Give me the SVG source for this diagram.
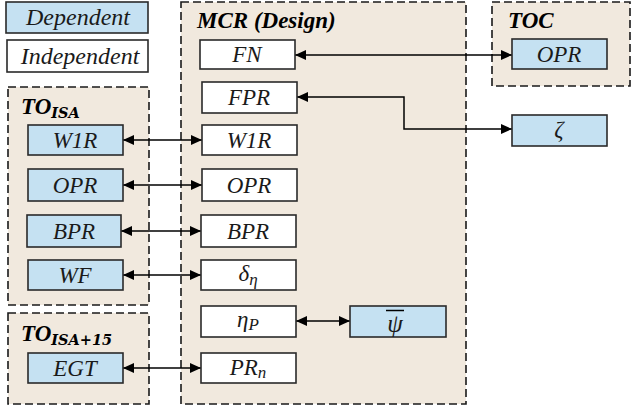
<svg xmlns="http://www.w3.org/2000/svg" width="633" height="408" viewBox="0 0 633 408">
  <defs>
    <marker id="arr" viewBox="0 0 10 10" refX="10" refY="5" markerWidth="11" markerHeight="11" markerUnits="userSpaceOnUse" orient="auto-start-reverse">
      <path d="M0,0.5 L10,5 L0,9.5 Z" fill="#000"/>
    </marker>
  </defs>
  <style>
    .grp { fill: #f1e9de; stroke: #1a1a1a; stroke-width: 1.6; stroke-dasharray: 8 4; }
    .dep { fill: #c5e1f2; stroke: #2a2a2a; stroke-width: 1.6; }
    .ind { fill: #ffffff; stroke: #2a2a2a; stroke-width: 1.6; }
    .t { font-family: "Liberation Serif", "Times New Roman", serif; font-style: italic; font-size: 23px; fill: #1a1a1a; text-anchor: middle; }
    .lg { font-size: 24px; }
    .big { font-size: 25px; }
    .h { font-family: "Liberation Serif", "Times New Roman", serif; font-style: italic; font-weight: bold; font-size: 23px; fill: #000; }
    .hs { font-family: "DejaVu Serif", serif; font-style: italic; font-weight: bold; font-size: 14.5px; fill: #000; }
    .sub { font-size: 17px; }
    .conn { fill: none; stroke: #000; stroke-width: 1.5; marker-start: url(#arr); marker-end: url(#arr); }
  </style>

  <!-- legend -->
  <g id="legend-dependent">
    <rect class="dep" x="6" y="2" width="142" height="31"/>
    <text class="t lg" x="78" y="25">Dependent</text>
  </g>
  <g id="legend-independent">
    <rect class="ind" x="7" y="40" width="141" height="32"/>
    <text class="t lg" x="80" y="64">Independent</text>
  </g>

  <!-- containers -->
  <g id="to-isa">
    <rect class="grp" x="8" y="87" width="141" height="218"/>
    <text class="h" x="21" y="114">TO<tspan class="hs" dy="4">ISA</tspan></text>
  </g>
  <g id="to-isa15">
    <rect class="grp" x="8" y="313" width="141" height="91"/>
    <text class="h" x="21" y="341">TO<tspan class="hs" dy="4">ISA+15</tspan></text>
  </g>
  <g id="mcr">
    <rect class="grp" x="181" y="2" width="285" height="402"/>
    <text class="h" x="197" y="28">MCR (Design)</text>
  </g>
  <g id="toc">
    <rect class="grp" x="492" y="2" width="138" height="84"/>
    <text class="h" x="508" y="28">TOC</text>
  </g>

  <!-- connectors -->
  <g id="connectors">
    <path class="conn" d="M295,55 H512"/>
    <path class="conn" d="M297,97 H404 V129 H512"/>
    <path class="conn" d="M123,140 H202"/>
    <path class="conn" d="M123,185 H202"/>
    <path class="conn" d="M121,231 H201"/>
    <path class="conn" d="M123,275 H201"/>
    <path class="conn" d="M296,321 H350"/>
    <path class="conn" d="M123,368 H201"/>
  </g>

  <!-- MCR nodes -->
  <g id="mcr-fn">
    <rect class="ind" x="200" y="40" width="95" height="29"/>
    <text class="t" x="247" y="62">FN</text>
  </g>
  <g id="mcr-fpr">
    <rect class="ind" x="202" y="82" width="95" height="31"/>
    <text class="t" x="249" y="105">FPR</text>
  </g>
  <g id="mcr-w1r">
    <rect class="ind" x="202" y="125" width="95" height="30"/>
    <text class="t" x="249" y="148">W1R</text>
  </g>
  <g id="mcr-opr">
    <rect class="ind" x="202" y="169" width="95" height="32"/>
    <text class="t" x="249" y="193">OPR</text>
  </g>
  <g id="mcr-bpr">
    <rect class="ind" x="201" y="215" width="95" height="32"/>
    <text class="t" x="248" y="239">BPR</text>
  </g>
  <g id="mcr-delta">
    <rect class="ind" x="201" y="260" width="95" height="30"/>
    <text class="t" x="248" y="281">δ<tspan class="sub" dy="4">η</tspan></text>
  </g>
  <g id="mcr-etap">
    <rect class="ind" x="201" y="306" width="95" height="31"/>
    <text class="t" x="248" y="327">η<tspan class="sub" dy="3">P</tspan></text>
  </g>
  <g id="mcr-prn">
    <rect class="ind" x="201" y="353" width="95" height="30"/>
    <text class="t" x="248" y="375">PR<tspan class="sub" dy="3">n</tspan></text>
  </g>

  <!-- TO_ISA nodes -->
  <g id="isa-w1r">
    <rect class="dep" x="28" y="125" width="95" height="30"/>
    <text class="t" x="75" y="148">W1R</text>
  </g>
  <g id="isa-opr">
    <rect class="dep" x="28" y="169" width="95" height="32"/>
    <text class="t" x="75" y="193">OPR</text>
  </g>
  <g id="isa-bpr">
    <rect class="dep" x="27" y="215" width="94" height="32"/>
    <text class="t" x="74" y="239">BPR</text>
  </g>
  <g id="isa-wf">
    <rect class="dep" x="28" y="260" width="95" height="30"/>
    <text class="t" x="75" y="283">WF</text>
  </g>
  <g id="isa15-egt">
    <rect class="dep" x="28" y="353" width="95" height="30"/>
    <text class="t" x="75" y="376">EGT</text>
  </g>

  <!-- right-hand nodes -->
  <g id="toc-opr">
    <rect class="dep" x="512" y="39" width="95" height="30"/>
    <text class="t" x="559" y="62">OPR</text>
  </g>
  <g id="zeta">
    <rect class="dep" x="512" y="115" width="95" height="31"/>
    <text class="t" x="559" y="137">ζ</text>
  </g>
  <g id="psi-bar">
    <rect class="dep" x="350" y="306" width="96" height="31"/>
    <line x1="386" y1="310.5" x2="404" y2="310.5" stroke="#000" stroke-width="1.5"/>
    <text class="t big" x="395" y="331.5">ψ</text>
  </g>
</svg>
